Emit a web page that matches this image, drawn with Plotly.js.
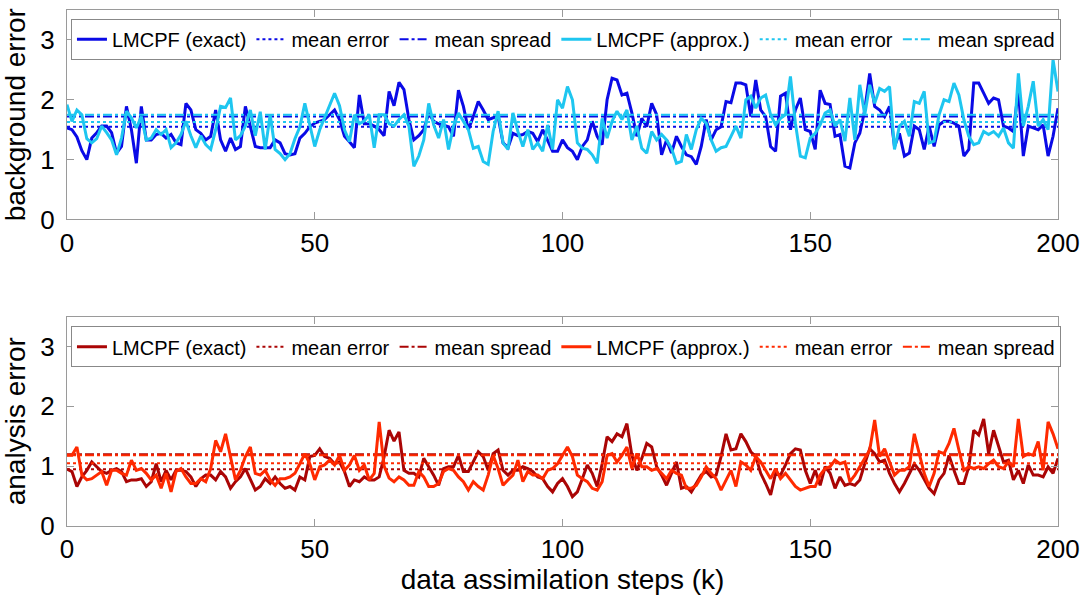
<!DOCTYPE html>
<html>
<head>
<meta charset="utf-8">
<script src="https://cdn.plot.ly/plotly-3.0.1.min.js"></script>
<style>
  body { margin: 0; background: #fff; }
  #myDiv { width: 1084px; height: 604px; }
</style>
</head>
<body>
<div id="myDiv"></div>
<script>
// values, one per assimilation step k = 0..200
const bgExact = [
  1.53,1.5,1.38,1.15,1.0,1.36,1.45,1.56,1.56,1.45,
  1.11,1.22,1.89,1.5,0.94,1.89,1.33,1.33,1.42,1.44,
  1.36,1.42,1.28,1.25,1.94,1.83,1.5,1.44,1.33,1.39,
  1.83,1.33,1.14,1.36,1.17,1.22,1.89,1.56,1.22,1.2,
  1.2,1.2,1.33,1.28,1.1,1.08,1.1,1.36,1.44,1.55,
  1.61,1.64,1.67,1.75,1.83,1.67,1.39,1.3,1.2,2.08,
  1.6,1.6,1.56,1.5,1.4,2.14,1.9,2.29,2.17,1.67,
  1.33,1.4,1.5,1.78,1.64,1.6,1.58,1.55,1.39,2.16,
  1.89,1.5,1.72,1.97,1.83,1.67,1.7,1.72,1.28,1.2,
  1.44,1.4,1.42,1.47,1.44,1.3,1.5,1.33,1.14,1.14,
  1.33,1.2,1.14,1.0,1.22,1.33,1.64,1.39,1.25,2.0,
  2.36,2.33,2.08,2.11,1.78,1.39,1.69,1.55,1.94,1.75,
  1.08,1.33,1.11,1.39,1.22,1.08,1.05,0.92,1.22,1.67,
  1.33,1.5,1.55,1.97,1.95,2.28,2.28,2.25,1.72,2.33,
  1.83,1.72,1.22,1.14,2.06,2.11,1.5,1.83,2.03,1.5,
  1.47,1.17,2.16,1.94,1.92,1.39,1.42,0.89,0.86,1.28,
  1.44,1.83,2.44,1.89,1.83,1.72,1.89,1.22,1.44,1.06,
  1.11,1.56,1.5,1.17,1.56,1.22,1.58,1.64,1.64,1.61,
  1.56,1.06,1.17,2.28,2.28,2.11,1.94,2.03,2.0,1.56,
  1.53,1.47,2.17,1.06,1.56,1.53,1.5,1.58,1.06,1.39,
  1.86
];
const bgApprox = [
  1.92,1.64,1.83,1.75,1.35,1.28,1.35,1.56,1.45,1.33,
  1.08,1.36,1.81,1.7,1.53,1.72,1.33,1.36,1.5,1.42,
  1.5,1.2,1.28,1.42,1.64,1.4,1.2,1.4,1.25,1.17,
  1.5,1.89,1.87,2.03,1.33,1.4,1.56,1.83,1.4,1.8,
  1.17,1.75,1.17,1.1,1.0,1.1,1.35,1.55,1.94,1.6,
  1.22,1.5,1.7,1.9,2.11,1.9,1.5,1.3,1.75,1.6,
  1.65,1.75,1.2,1.75,1.75,1.6,1.56,1.67,1.75,1.56,
  0.89,1.06,1.33,1.94,1.58,1.36,1.67,1.17,1.56,1.78,
  1.64,1.5,1.19,1.22,0.97,0.92,1.47,1.81,1.28,1.17,
  1.78,1.47,1.22,1.5,1.17,1.28,1.14,1.58,1.17,2.0,
  1.86,2.22,2.0,1.28,1.19,1.17,1.08,0.94,1.69,1.36,
  1.64,1.81,1.67,1.83,1.33,1.56,1.19,1.11,1.47,1.33,
  1.42,1.33,1.19,0.94,0.97,1.42,1.17,1.5,1.69,1.61,
  1.33,1.14,1.2,1.22,1.39,1.56,1.36,2.0,2.06,1.86,
  2.03,2.08,1.75,1.58,1.69,1.75,2.39,1.61,1.06,1.03,
  1.36,1.44,1.58,1.78,1.83,1.56,1.67,1.31,2.03,1.33,
  2.25,1.75,2.25,1.94,2.19,2.14,2.22,1.17,1.56,1.64,
  1.39,1.97,1.94,2.14,1.28,1.31,1.75,2.0,1.97,2.28,
  2.08,1.67,1.39,1.25,1.28,1.47,1.42,1.47,1.39,1.53,
  1.28,1.19,2.44,1.56,1.89,2.31,1.56,1.67,1.5,2.67,
  2.14
];
const anExact = [
  0.95,0.91,0.66,0.82,0.93,1.07,0.99,0.91,0.88,0.93,
  0.96,0.91,0.74,0.77,0.77,0.79,0.66,0.74,1.04,0.74,
  0.93,0.77,0.93,0.93,0.91,0.82,0.66,0.79,0.85,0.85,
  0.77,0.91,0.82,0.63,0.74,0.82,0.96,0.79,0.6,0.66,
  0.79,0.71,0.82,0.71,0.63,0.66,0.6,0.82,0.77,1.16,
  1.18,1.29,1.16,1.13,1.04,1.07,0.91,0.66,0.77,0.74,
  0.82,0.77,0.77,0.82,1.16,1.6,1.42,1.57,0.93,0.88,
  0.88,0.82,1.13,0.99,0.85,0.68,0.96,0.99,0.99,1.18,
  0.91,0.91,1.07,1.24,1.16,0.93,1.21,1.27,0.93,0.85,
  0.93,0.93,0.99,0.96,0.91,0.82,0.79,0.66,0.57,0.71,
  0.79,0.66,0.49,0.57,0.79,1.02,0.88,0.66,1.04,1.49,
  1.41,1.54,1.49,1.71,1.18,0.93,1.13,1.38,1.32,0.99,
  0.85,0.68,0.88,1.07,0.63,0.66,0.57,0.71,0.85,0.91,
  0.82,0.85,1.16,1.54,1.27,1.29,1.54,1.41,1.24,1.16,
  0.88,0.71,0.52,0.88,0.85,1.02,1.21,1.29,1.27,0.93,
  0.71,0.93,0.68,0.99,0.88,0.63,0.82,0.68,0.71,0.68,
  0.77,1.04,1.29,1.21,1.07,1.1,0.88,0.71,0.57,0.71,
  0.88,1.04,0.93,0.77,0.63,0.54,0.77,0.88,1.18,0.93,
  0.71,0.71,0.99,1.6,1.52,1.79,1.21,1.6,1.32,1.07,
  1.1,0.77,0.93,0.71,1.02,0.85,0.85,0.82,0.99,0.88,
  1.13
];
const anApprox = [
  1.18,1.18,1.32,0.85,0.77,0.79,0.85,0.91,0.68,0.93,
  0.93,0.88,0.85,1.1,0.93,0.96,0.88,0.77,0.85,0.63,
  0.88,0.57,0.91,0.96,0.82,0.71,0.71,0.79,0.74,0.96,
  1.43,1.24,1.54,1.13,0.77,0.93,1.16,1.32,0.88,0.85,
  0.93,0.77,0.68,0.79,0.79,0.82,0.88,1.04,1.21,1.04,
  0.77,0.99,1.02,1.1,1.02,1.18,0.93,1.02,1.18,0.93,
  1.02,0.77,0.88,1.74,1.0,0.8,0.74,0.82,0.77,0.68,
  0.68,0.91,0.82,0.66,0.66,0.71,0.91,0.96,0.93,0.82,
  0.74,0.6,0.74,0.66,0.6,0.85,1.18,0.96,0.68,0.77,
  0.85,1.1,0.74,0.91,0.85,0.85,0.79,0.93,0.96,1.04,
  1.18,1.32,1.16,0.85,0.79,0.74,0.63,0.6,0.74,1.18,
  1.21,1.07,1.18,1.32,0.96,1.21,0.99,0.99,0.93,0.96,
  0.88,0.79,0.93,0.88,0.85,0.63,0.63,0.68,0.82,0.99,
  0.88,0.79,0.6,0.77,0.93,0.66,1.07,1.02,0.93,1.16,
  1.07,0.93,0.79,0.96,0.79,0.88,0.77,0.66,0.6,0.63,
  0.66,0.66,0.85,0.96,0.99,1.1,1.04,1.07,0.74,0.85,
  0.99,1.13,1.27,1.77,1.16,1.29,1.07,0.85,0.93,0.93,
  0.99,1.54,1.21,0.88,0.66,0.88,1.24,1.21,1.38,1.63,
  1.27,0.93,0.99,0.96,0.99,0.96,1.04,1.1,0.99,0.96,
  1.07,0.99,1.79,1.16,1.21,1.18,1.41,0.93,1.74,1.54,
  1.29
];

// mean error / mean spread levels
const bgMeanErrExact = 1.55, bgMeanSpreadExact = 1.72;
const bgMeanErrApprox = 1.63, bgMeanSpreadApprox = 1.75;
const anMeanErrExact = 0.95, anMeanSpreadExact = 1.2;
const anMeanErrApprox = 1.05, anMeanSpreadApprox = 1.18;

const steps = bgExact.map((v, i) => i);
const stepSpan = [steps[0], steps[steps.length - 1]];

const blue = '#0a0ae6';
const cyan = '#1ec6f0';
const darkRed = '#aa0505';
const red = '#ff2a00';

function series(y, name, color, xa, ya, leg) {
  return {x: steps, y: y, name: name, type: 'scatter', mode: 'lines',
    xaxis: xa, yaxis: ya, legend: leg,
    line: {color: color, width: 3}};
}
function level(v, name, color, dash, xa, ya, leg) {
  return {x: stepSpan, y: [v, v], name: name, type: 'scatter', mode: 'lines',
    xaxis: xa, yaxis: ya, legend: leg,
    line: {color: color, width: 2, dash: dash}};
}

const lines = [
  series(bgExact, 'LMCPF (exact)', blue, 'x', 'y', 'legend'),
  level(bgMeanErrExact, 'mean error', blue, 'dot', 'x', 'y', 'legend'),
  level(bgMeanSpreadExact, 'mean spread', blue, 'dashdot', 'x', 'y', 'legend'),
  series(bgApprox, 'LMCPF (approx.)', cyan, 'x', 'y', 'legend'),
  level(bgMeanErrApprox, 'mean error', cyan, 'dot', 'x', 'y', 'legend'),
  level(bgMeanSpreadApprox, 'mean spread', cyan, 'dashdot', 'x', 'y', 'legend'),

  series(anExact, 'LMCPF (exact)', darkRed, 'x2', 'y2', 'legend2'),
  level(anMeanErrExact, 'mean error', darkRed, 'dot', 'x2', 'y2', 'legend2'),
  level(anMeanSpreadExact, 'mean spread', darkRed, 'dashdot', 'x2', 'y2', 'legend2'),
  series(anApprox, 'LMCPF (approx.)', red, 'x2', 'y2', 'legend2'),
  level(anMeanErrApprox, 'mean error', red, 'dot', 'x2', 'y2', 'legend2'),
  level(anMeanSpreadApprox, 'mean spread', red, 'dashdot', 'x2', 'y2', 'legend2'),
];

const font = 'Liberation Sans, Arial, sans-serif';

const xStyle = {
  range: [0, 200],
  tickvals: [0, 50, 100, 150, 200],
  ticks: 'inside',
  ticklen: 7,
  tickwidth: 1,
  tickcolor: '#9a9a9a',
  showline: true,
  linecolor: '#9a9a9a',
  linewidth: 1,
  mirror: 'ticks',
  showgrid: false,
  zeroline: false,
  tickfont: {family: font, size: 26, color: '#000'},
};
const yStyle = {
  range: [0, 3.5],
  tickvals: [0, 1, 2, 3],
  ticks: 'inside',
  ticklen: 7,
  tickwidth: 1,
  tickcolor: '#9a9a9a',
  showline: true,
  linecolor: '#9a9a9a',
  linewidth: 1,
  mirror: 'ticks',
  showgrid: false,
  zeroline: false,
  ticklabelstandoff: 6,
  tickfont: {family: font, size: 26, color: '#000'},
};
const legendStyle = {
  orientation: 'h',
  xanchor: 'left',
  yanchor: 'top',
  x: 0.004,
  bgcolor: '#fff',
  bordercolor: '#888',
  borderwidth: 1,
  font: {family: font, size: 20, color: '#000'},
};

const layout = {
  width: 1084,
  height: 604,
  margin: {l: 67, r: 26, t: 10, b: 78},
  paper_bgcolor: '#fff',
  plot_bgcolor: '#fff',
  showlegend: true,
  xaxis: Object.assign({}, xStyle, {domain: [0, 1], anchor: 'y'}),
  yaxis: Object.assign({}, yStyle, {domain: [0.594, 1], anchor: 'x',
    title: {text: 'background error', standoff: 8, font: {family: font, size: 28, color: '#000'}}}),
  xaxis2: Object.assign({}, xStyle, {domain: [0, 1], anchor: 'y2',
    title: {text: 'data assimilation steps (k)', standoff: 6, font: {family: font, size: 28, color: '#000'}}}),
  yaxis2: Object.assign({}, yStyle, {domain: [0, 0.406], anchor: 'x2',
    title: {text: 'analysis error', standoff: 8, font: {family: font, size: 28, color: '#000'}}}),
  legend: Object.assign({}, legendStyle, {y: 0.983}),
  legend2: Object.assign({}, legendStyle, {y: 0.387}),
};

Plotly.newPlot('myDiv', lines, layout, {staticPlot: true});
</script>
</body>
</html>
